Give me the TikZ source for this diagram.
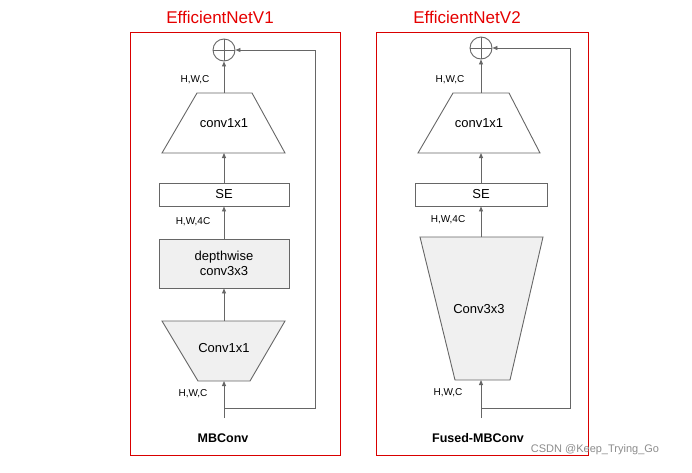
\documentclass[tikz,border=0pt]{standalone}
\usepackage{fontspec}
\setmainfont{Liberation Sans}
\usetikzlibrary{arrows.meta}
\begin{document}
\begin{tikzpicture}[x=1pt,y=-1pt,
  ln/.style={draw=black!60,line width=0.9pt},
  ar/.style={ln,-{Triangle[length=5pt,width=4pt]}},
  lab/.style={font=\fontsize{10}{11}\selectfont},
  txt/.style={font=\fontsize{13}{15}\selectfont,align=center},
  frame/.style={draw=red!85!black,line width=0.8pt},
  ttl/.style={text=red!90!black,font=\fontsize{17}{19}\selectfont}]
\useasboundingbox (0,0) rectangle (692,472);
% ===== V1 =====
\draw[frame] (130,32) rectangle (340,455);
\node[ttl] (t1) at (220,17) {EfficientNetV1};
\node[circle,ln,minimum size=22pt,inner sep=0] (p1) at (224,50) {};
\draw[ln] (p1.north)--(p1.south) (p1.west)--(p1.east);
\draw[ln] (197,93)--(252,93)--(285,153)--(162,153)--cycle;
\node[txt] (c1) at (224,123) {conv1x1};
\node[lab] (l1) at (195,80) {H,W,C};
\node[ln,fill=white,minimum width=130pt,minimum height=23pt,inner sep=0] (se1) at (224,194.5) {};
\node[txt] at (se1) {SE};
\node[lab] (l2) at (193,222) {H,W,4C};
\node[ln,fill=black!6,minimum width=130pt,minimum height=49pt,inner sep=0,txt] (dw) at (224,263.5) {depthwise\\conv3x3};
\draw[ln,fill=black!6] (162,321)--(285,321)--(250,381)--(198,381)--cycle;
\node[txt] (c2) at (224,348) {Conv1x1};
\node[lab] (l3) at (193,394) {H,W,C};
\coordinate (in1) at (224,418);
\coordinate (b1) at (224,408);
\coordinate (r1) at (315,408);
\coordinate (r1t) at (315,50);
\draw[ar] (in1)--(224,381);
\draw[ar] (224,321)--(dw.south);
\draw[ar] (dw.north)--(se1.south);
\draw[ar] (se1.north)--(224,153);
\draw[ar] (224,93)--(p1.south);
\draw[ar] (b1)--(r1)--(r1t)--(p1.east);
\node[font=\bfseries\fontsize{12.5}{14}\selectfont] (m1) at (223,438) {MBConv};
% ===== V2 =====
\draw[frame] (376,32) rectangle (588,455);
\node[ttl] (t2) at (467,17) {EfficientNetV2};
\node[circle,ln,minimum size=22pt,inner sep=0] (p2) at (481,48) {};
\draw[ln] (p2.north)--(p2.south) (p2.west)--(p2.east);
\draw[ln] (453,93)--(509,93)--(540,153)--(418,153)--cycle;
\node[txt] (c3) at (479,123) {conv1x1};
\node[lab] (l4) at (450,80) {H,W,C};
\node[ln,fill=white,minimum width=132pt,minimum height=23pt,inner sep=0] (se2) at (481,194.5) {};
\node[txt] at (se2) {SE};
\node[lab] (l5) at (448,220) {H,W,4C};
\draw[ln,fill=black!6] (420,237)--(543,237)--(510,380)--(455,380)--cycle;
\node[txt] (c4) at (479,309) {Conv3x3};
\node[lab] (l6) at (448,393) {H,W,C};
\coordinate (in2) at (481,418);
\coordinate (b2) at (481,408);
\coordinate (r2) at (570,408);
\coordinate (r2t) at (570,48);
\draw[ar] (in2)--(481,380);
\draw[ar] (481,237)--(se2.south);
\draw[ar] (se2.north)--(481,153);
\draw[ar] (481,93)--(p2.south);
\draw[ar] (b2)--(r2)--(r2t)--(p2.east);
\node[font=\bfseries\fontsize{12.5}{14}\selectfont] (m2) at (478,438) {Fused-MBConv};
\node[text=black!45,font=\fontsize{11}{13}\selectfont] (wm) at (595,450) {CSDN @Keep\_Trying\_Go};
\end{tikzpicture}
\end{document}
